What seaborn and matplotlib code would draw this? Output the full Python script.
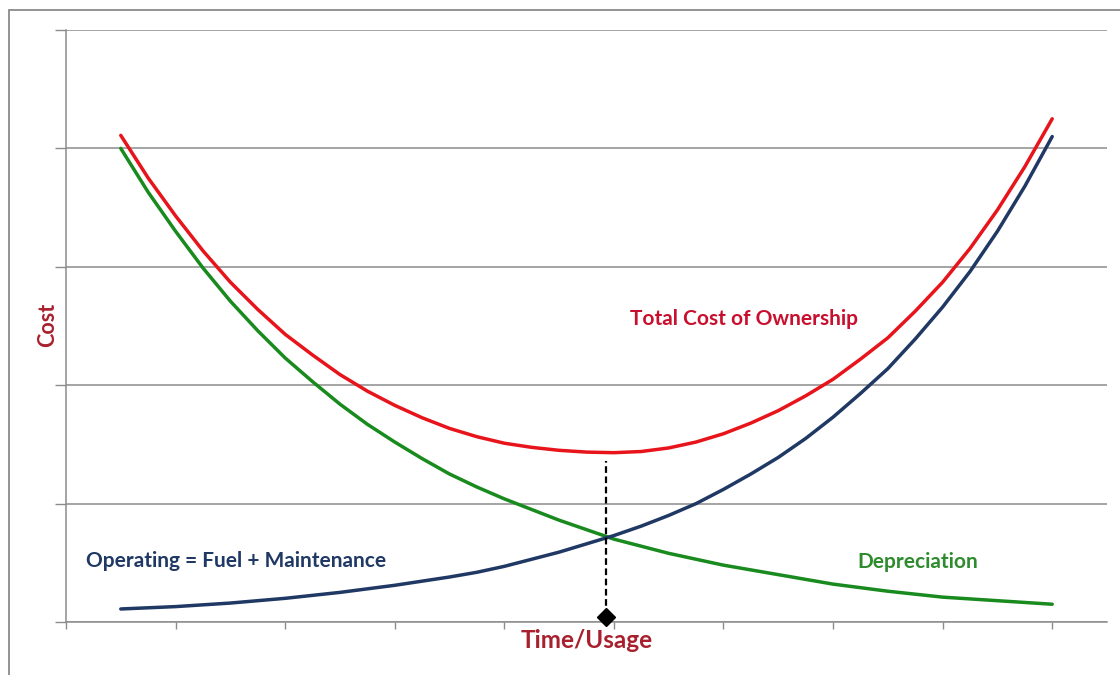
import matplotlib
matplotlib.use("Agg")
import matplotlib.pyplot as plt
import seaborn as sns
import pandas as pd
from matplotlib.patches import Rectangle

# ---- data ----
usage = [0.5, 0.75, 1.0, 1.25, 1.5, 1.75, 2.0, 2.25, 2.5, 2.75, 3.0, 3.25,
         3.5, 3.75, 4.0, 4.25, 4.5, 4.75, 5.0, 5.25, 5.5, 5.75, 6.0, 6.25,
         6.5, 6.75, 7.0, 7.25, 7.5, 7.75, 8.0, 8.25, 8.5, 8.75, 9.0]
depreciation = [4.00, 3.63, 3.30, 2.99, 2.71, 2.46, 2.23, 2.03, 1.84, 1.67, 1.52, 1.38,
                1.25, 1.14, 1.04, 0.95, 0.86, 0.78, 0.70, 0.64, 0.58, 0.53, 0.48, 0.44,
                0.40, 0.36, 0.32, 0.29, 0.26, 0.235, 0.21, 0.195, 0.18, 0.165, 0.15]
operating = [0.11, 0.12, 0.13, 0.145, 0.16, 0.18, 0.20, 0.225, 0.25, 0.28, 0.31, 0.345,
             0.38, 0.42, 0.47, 0.53, 0.59, 0.66, 0.73, 0.81, 0.90, 1.00, 1.12, 1.25,
             1.39, 1.55, 1.73, 1.93, 2.14, 2.39, 2.66, 2.96, 3.30, 3.68, 4.10]
total_cost = [4.11, 3.75, 3.43, 3.135, 2.87, 2.64, 2.43, 2.255, 2.09, 1.95, 1.83, 1.725,
              1.635, 1.565, 1.51, 1.475, 1.45, 1.435, 1.43, 1.44, 1.47, 1.52, 1.59, 1.68,
              1.785, 1.91, 2.05, 2.22, 2.40, 2.625, 2.87, 3.155, 3.48, 3.845, 4.25]
optimum_x = 4.93
optimum_top = 1.36
x_ticks = list(range(10))
y_ticks = [0, 1, 2, 3, 4, 5]

sns.set_theme(style="white")
plt.rcParams['font.family'] = ['Lato', 'DejaVu Sans']

fig = plt.figure(figsize=(11.2, 6.75), dpi=100)
fig.patch.set_facecolor("white")
# outer chart-area frame (partly cropped in the reference)
fig.patches.append(Rectangle((9 / 1120, -0.1), 1.2, (675 - 10) / 675 + 0.1,
                             transform=fig.transFigure, fill=False,
                             edgecolor="#8a8a8a", linewidth=1.3))

ax = fig.add_axes([66 / 1120, (675 - 622) / 675, (1107 - 66) / 1120, (622 - 30) / 675])

df = pd.DataFrame({"usage": usage, "depreciation": depreciation,
                   "operating": operating, "total": total_cost})

line_kw = dict(linewidth=2.5, solid_joinstyle="round", solid_capstyle="round")
sns.lineplot(data=df, x="usage", y="total", ax=ax, color="#E8141B", **line_kw)
sns.lineplot(data=df, x="usage", y="depreciation", ax=ax, color="#198A1E", **line_kw)
sns.lineplot(data=df, x="usage", y="operating", ax=ax, color="#1F3864", **line_kw)

ax.set_xlim(0, 9.5)
ax.set_ylim(0, 5)
ax.set_xticks(x_ticks)
ax.set_yticks(y_ticks)
ax.set_xticklabels([])
ax.set_yticklabels([])
ax.yaxis.grid(True, color="#8c8c8c", linewidth=1.1)
ax.xaxis.grid(False)
ax.tick_params(axis="x", direction="out", length=5, width=1, color="#8c8c8c", bottom=True)
ax.tick_params(axis="y", direction="out", length=8, width=1, color="#8c8c8c", left=True)
for side in ["top", "right"]:
    ax.spines[side].set_visible(False)
for side in ["left", "bottom"]:
    ax.spines[side].set_color("#8c8c8c")
    ax.spines[side].set_linewidth(1.1)

# optimum marker
ax.plot([optimum_x, optimum_x], [0.05, optimum_top], color="black",
        linestyle=(0, (3, 1.6)), linewidth=1.6)
ax.plot([optimum_x], [0.04], marker="D", color="black", markersize=9, clip_on=False, zorder=5)

ax.set_xlabel("")
ax.set_ylabel("")

# annotations (figure pixel positions)
def ftext(x, y, s, **kw):
    fig.text(x / 1120, 1 - y / 675, s, fontweight="bold", **kw)

ftext(744, 319, "Total Cost of Ownership", color="#C8102E", fontsize=15, ha="center", va="center")
ftext(236, 561, "Operating = Fuel + Maintenance", color="#1F3864", fontsize=15, ha="center", va="center")
ftext(918, 562, "Depreciation", color="#2E8B2E", fontsize=15, ha="center", va="center")
ftext(587, 641, "Time/Usage", color="#A8202E", fontsize=17.5, ha="center", va="center")
ftext(48, 325, "Cost", color="#A8202E", fontsize=15.5, ha="center", va="center", rotation=90)

fig.savefig("out.png", dpi=100, facecolor="white")
